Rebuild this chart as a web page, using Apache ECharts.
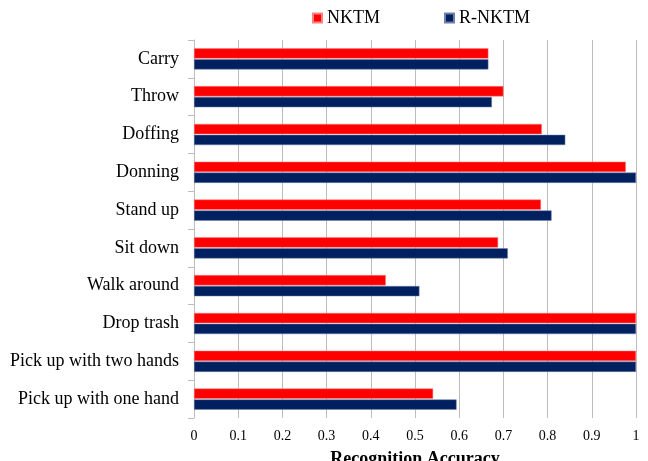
<!DOCTYPE html>
<html><head><meta charset="utf-8">
<script src="https://cdn.jsdelivr.net/npm/echarts@6/dist/echarts.min.js"></script>
<style>html,body{margin:0;padding:0;background:#fff;overflow:hidden}#c{width:648px;height:461px}</style>
</head><body><div id="c"></div>
<script>
var categories = ["Carry","Throw","Doffing","Donning","Stand up","Sit down","Walk around","Drop trash","Pick up with two hands","Pick up with one hand"];
var nktm = [0.666,0.700,0.787,0.977,0.785,0.688,0.434,1.0,1.0,0.541];
var rnktm = [0.666,0.674,0.840,1.0,0.809,0.710,0.510,1.0,1.0,0.594];
var xTicks = [0,0.1,0.2,0.3,0.4,0.5,0.6,0.7,0.8,0.9,1];
var font = "'Liberation Serif','Times New Roman',serif";
var chart = echarts.init(document.getElementById('c'));
chart.setOption({
  animation:false,
  legend:{top:9,left:312,padding:0,itemWidth:9,itemHeight:9,itemGap:64,icon:'rect',
    textStyle:{fontFamily:font,fontSize:18,color:'#000'},data:['NKTM','R-NKTM']},
  grid:{left:194,right:12,top:40,bottom:43,containLabel:false,outerBoundsMode:'none'},
  xAxis:{type:'value',min:0,max:1,interval:0.1,
    name:'Recognition Accuracy',nameLocation:'middle',nameGap:32,
    nameTextStyle:{fontFamily:font,fontSize:18,fontWeight:'bold',color:'#000'},
    axisLine:{show:false},axisTick:{show:false},
    splitLine:{show:true,lineStyle:{color:'#bcbcbc',width:1}},
    axisLabel:{fontFamily:font,fontSize:14,color:'#000',margin:11,
      formatter:function(v){var s=xTicks.find(function(t){return Math.abs(t-v)<1e-9});return String(s!==undefined?s:v);}}},
  yAxis:{type:'category',data:categories,inverse:true,
    axisLine:{show:true,lineStyle:{color:'#bcbcbc'}},
    axisTick:{show:true,length:6,lineStyle:{color:'#bcbcbc'}},
    axisLabel:{fontFamily:font,fontSize:18,color:'#000',margin:15}},
  series:[
    {name:'NKTM',type:'bar',data:nktm,barGap:'6%',barCategoryGap:'44%',
      itemStyle:{color:'#ff0000',borderColor:'#ff8080',borderWidth:0.5}},
    {name:'R-NKTM',type:'bar',data:rnktm,barGap:'6%',barCategoryGap:'44%',
      itemStyle:{color:'#002060',borderColor:'#7080a8',borderWidth:0.5}}
  ]
});
</script></body></html>
